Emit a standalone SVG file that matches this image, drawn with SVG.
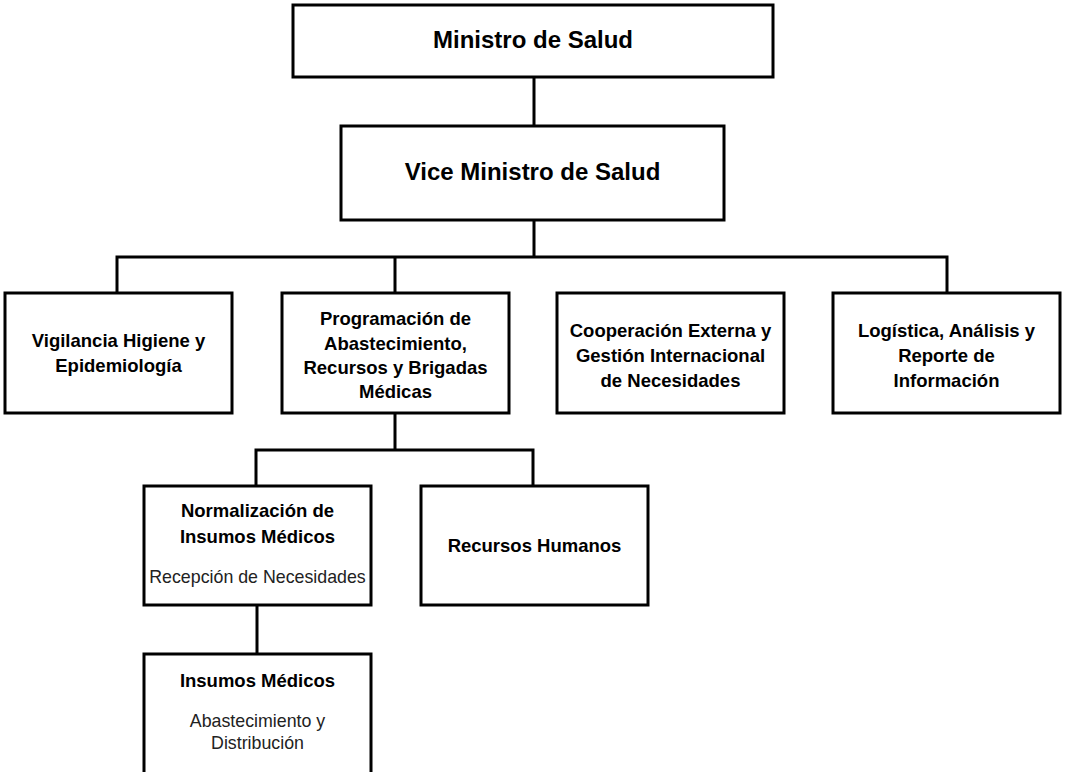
<svg xmlns="http://www.w3.org/2000/svg" width="1065" height="772" viewBox="0 0 1065 772">
<style>
.box{fill:#fff;stroke:#000;stroke-width:3}
.con{fill:none;stroke:#000;stroke-width:3;stroke-linecap:square}
.t1{font-family:"Liberation Sans",Arial,sans-serif;font-weight:bold;font-size:24px;fill:#000;text-anchor:middle}
.t2{font-family:"Liberation Sans",Arial,sans-serif;font-weight:bold;font-size:18.5px;fill:#000;text-anchor:middle}
.t3{font-family:"Liberation Sans",Arial,sans-serif;font-size:17.8px;fill:#222;text-anchor:middle}
</style>
<rect width="1065" height="772" fill="#fff"/>
<g id="connectors">
<path class="con" d="M534 77V126M534 220V257M117 257H947M117 257V293M395 257V293M947 257V293M395 413V450M256 450H533M256 450V486M533 450V486M257 605V654"/>
</g>
<g id="ministro">
<rect class="box" x="293" y="5" width="480" height="72"/>
<text class="t1" x="533" y="48">Ministro de Salud</text>
</g>
<g id="viceministro">
<rect class="box" x="341" y="126" width="383" height="94"/>
<text class="t1" x="532.5" y="180">Vice Ministro de Salud</text>
</g>
<g id="vigilancia">
<rect class="box" x="5" y="293" width="227" height="120"/>
<text class="t2" x="118.5" y="347">Vigilancia Higiene y</text>
<text class="t2" x="118.5" y="372">Epidemiología</text>
</g>
<g id="programacion">
<rect class="box" x="282" y="293" width="227" height="120"/>
<text class="t2" x="395.5" y="325">Programación de</text>
<text class="t2" x="395.5" y="350">Abastecimiento,</text>
<text class="t2" x="395.5" y="374">Recursos y Brigadas</text>
<text class="t2" x="395.5" y="398">Médicas</text>
</g>
<g id="cooperacion">
<rect class="box" x="557" y="293" width="227" height="120"/>
<text class="t2" x="670.5" y="337">Cooperación Externa y</text>
<text class="t2" x="670.5" y="362">Gestión Internacional</text>
<text class="t2" x="670.5" y="387">de Necesidades</text>
</g>
<g id="logistica">
<rect class="box" x="833" y="293" width="227" height="120"/>
<text class="t2" x="946.5" y="337">Logística, Análisis y</text>
<text class="t2" x="946.5" y="362">Reporte de</text>
<text class="t2" x="946.5" y="387">Información</text>
</g>
<g id="normalizacion">
<rect class="box" x="144" y="486" width="227" height="119"/>
<text class="t2" x="257.5" y="517">Normalización de</text>
<text class="t2" x="257.5" y="543">Insumos Médicos</text>
<text class="t3" x="257.5" y="583">Recepción de Necesidades</text>
</g>
<g id="recursos-humanos">
<rect class="box" x="421" y="486" width="227" height="119"/>
<text class="t2" x="534.5" y="552">Recursos Humanos</text>
</g>
<g id="insumos">
<rect class="box" x="144" y="654" width="227" height="140"/>
<text class="t2" x="257.5" y="687">Insumos Médicos</text>
<text class="t3" x="257.5" y="727">Abastecimiento y</text>
<text class="t3" x="257.5" y="749">Distribución</text>
</g>
</svg>
